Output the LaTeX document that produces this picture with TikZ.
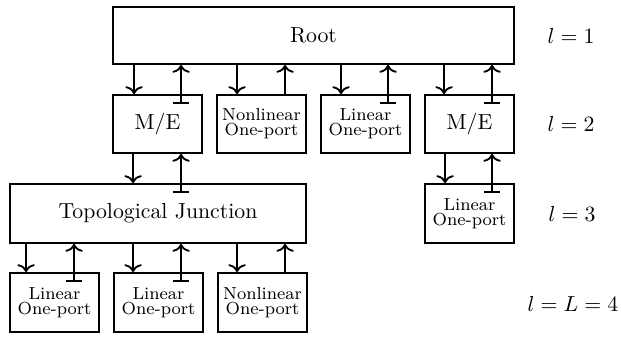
\documentclass[tikz,border=0pt]{standalone}
\usetikzlibrary{arrows.meta,calc}
\newcommand{\twol}[2]{#1\\[-2.7pt]#2}
\tikzset{
  bx/.style n args={2}{draw, line width=0.85pt, inner sep=0pt,
    minimum width=#1*0.4587pt, minimum height=#2*0.4587pt},
  sm/.style={font=\footnotesize, align=center},
  dn/.style={line width=0.85pt, -{Computer Modern Rightarrow[width=8pt,length=3.6pt,line width=0.85pt]}},
  upb/.style={line width=0.85pt, {Bar[width=7.4pt,line width=0.85pt]}-{Computer Modern Rightarrow[width=8pt,length=3.6pt,line width=0.85pt]}},
  upn/.style={line width=0.85pt, -{Computer Modern Rightarrow[width=8pt,length=3.6pt,line width=0.85pt]}},
}
\begin{document}
\begin{tikzpicture}[x=0.4587pt,y=-0.4587pt]
\useasboundingbox (0,0) rectangle (621,337);
% boxes
\node[bx={401}{57}] (root) at (313.5,35.5) {Root};
\node[bx={89}{58}] (me1) at (157.5,124) {M/E};
\node[bx={89}{58},sm] (nl1) at (261.5,124) {\twol{Nonlinear}{One-port}};
\node[bx={89}{58},sm] (lin1) at (365.5,124) {\twol{Linear}{One-port}};
\node[bx={89}{58}] (me2) at (469.5,124) {M/E};
\node[bx={296}{59}] (tj) at (158,213.5) {Topological Junction};
\node[bx={89}{59},sm] (lin3) at (469.5,213.5) {\twol{Linear}{One-port}};
\node[bx={89}{59},sm] (la) at (54.5,302.5) {\twol{Linear}{One-port}};
\node[bx={89}{59},sm] (lb) at (158.5,302.5) {\twol{Linear}{One-port}};
\node[bx={89}{59},sm] (nc) at (262.5,302.5) {\twol{Nonlinear}{One-port}};
% level labels
\node (l1) at (571,36) {$l=1$};
\node (l2) at (571,124) {$l=2$};
\node (l3) at (572,214) {$l=3$};
\node (l4) at (573,304) {$l=L=4$};
% down/up anchor points on the lower boxes (d = arrow end, u = bar start)
\foreach \b/\d/\u/\o in {me1/22/69/10, nl1/21/69/0, lin1/21/68/10, me2/20/68/10,
                         lin3/21/68/10, la/17/65/10, lb/20/68/10, nc/20/68/0}{
  \coordinate (\b-d) at ($(\b.north west)+(\d,0)$);
  \coordinate (\b-u) at ($(\b.north west)+(\u,\o)$);
}
\coordinate (tj-d) at ($(tj.north west)+(124,0)$);
\coordinate (tj-u) at ($(tj.north west)+(172,10)$);
% root -> level 2
\foreach \b/\s in {me1/upb, nl1/upn, lin1/upb, me2/upb}{
  \draw[dn] (root.south -| \b-d) -- (\b-d);
  \draw[\s] (\b-u) -- (root.south -| \b-u);
}
% me1 -> tj
\draw[dn] (me1.south -| tj-d) -- (tj-d);
\draw[upb] (tj-u) -- (me1.south -| tj-u);
% me2 -> lin3
\draw[dn] (me2.south -| lin3-d) -- (lin3-d);
\draw[upb] (lin3-u) -- (me2.south -| lin3-u);
% tj -> level 4
\foreach \b/\s in {la/upb, lb/upb, nc/upn}{
  \draw[dn] (tj.south -| \b-d) -- (\b-d);
  \draw[\s] (\b-u) -- (tj.south -| \b-u);
}
\end{tikzpicture}
\end{document}
